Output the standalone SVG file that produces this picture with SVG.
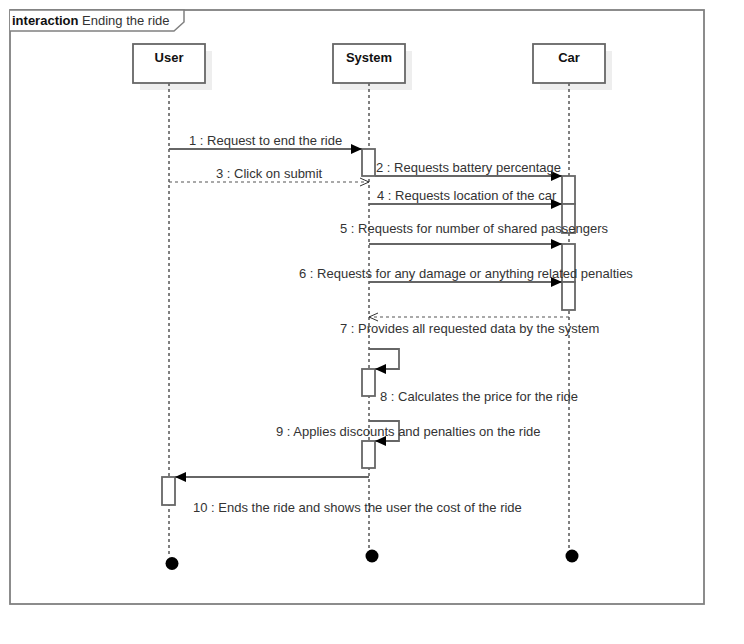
<svg xmlns="http://www.w3.org/2000/svg" width="744" height="644" viewBox="0 0 744 644">
<defs>
<marker id="filled" markerUnits="userSpaceOnUse" markerWidth="12" markerHeight="12" refX="11" refY="6" orient="auto">
<path d="M0,1 L11,6 L0,11 Z" fill="#000"/>
</marker>
<marker id="open" markerUnits="userSpaceOnUse" markerWidth="12" markerHeight="12" refX="10" refY="6" orient="auto">
<path d="M1,2 L10,6 L1,10" fill="none" stroke="#333" stroke-width="1"/>
</marker>
</defs>
<style>
text{font-family:"Liberation Sans",Arial,sans-serif;font-size:13px;fill:#333}
.head{font-weight:bold;fill:#111}
.box{fill:#fff;stroke:#666;stroke-width:1.8}
.shadow{fill:#eeeeee}
.life{stroke:#000;stroke-width:1;stroke-dasharray:3,3;fill:none}
.act{fill:#fff;stroke:#666;stroke-width:1.8}
.msg{stroke:#666;stroke-width:1.8;fill:none;marker-end:url(#filled)}
.ret{stroke:#555;stroke-width:1.2;stroke-dasharray:3,3;fill:none;marker-end:url(#open)}
.end{fill:#000}
</style>
<rect width="744" height="644" fill="#fff"/>
<g id="frame">
<rect x="10" y="10" width="694" height="594" fill="none" stroke="#808080" stroke-width="1.8"/>
<path d="M10,10 L184,10 L184,22 L174,31 L10,31" fill="#fff" stroke="#808080" stroke-width="1.5"/>
<text x="12" y="25"><tspan font-weight="bold" fill="#111">interaction</tspan> Ending the ride</text>
</g>
<g id="user">
<rect class="shadow" x="140" y="51" width="72" height="39"/>
<line class="life" x1="169" y1="83" x2="169" y2="556"/>
<rect class="box" x="133" y="44" width="72" height="39"/>
<text class="head" x="169" y="62" text-anchor="middle">User</text>
<circle class="end" cx="172" cy="563.5" r="6.5"/>
</g>
<g id="system">
<rect class="shadow" x="340" y="51" width="72" height="39"/>
<line class="life" x1="369" y1="83" x2="369" y2="549"/>
<rect class="box" x="333" y="44" width="72" height="39"/>
<text class="head" x="369" y="62" text-anchor="middle">System</text>
<circle class="end" cx="372" cy="556" r="6.5"/>
</g>
<g id="car">
<rect class="shadow" x="540" y="51" width="72" height="39"/>
<line class="life" x1="569" y1="83" x2="569" y2="549"/>
<rect class="box" x="533" y="44" width="72" height="39"/>
<text class="head" x="569" y="62" text-anchor="middle">Car</text>
<circle class="end" cx="572" cy="556" r="6.5"/>
</g>
<g id="activations">
<rect class="act" x="362" y="149" width="13" height="27"/>
<rect class="act" x="562" y="176" width="13" height="28"/>
<rect class="act" x="562" y="204" width="13" height="29"/>
<rect class="act" x="562" y="244" width="13" height="38"/>
<rect class="act" x="562" y="282" width="13" height="28"/>
<rect class="act" x="362" y="369" width="13" height="27"/>
<rect class="act" x="362" y="441" width="13" height="27"/>
<rect class="act" x="162" y="477" width="13" height="28"/>
</g>
<g id="connectors">
<line class="msg" x1="169" y1="149" x2="362" y2="149"/>
<line class="msg" x1="375" y1="176" x2="562" y2="176"/>
<line class="ret" x1="169" y1="182" x2="369" y2="182"/>
<line class="msg" x1="369" y1="204" x2="562" y2="204"/>
<line class="msg" x1="369" y1="244" x2="562" y2="244"/>
<line class="msg" x1="369" y1="282" x2="562" y2="282"/>
<line class="ret" x1="569" y1="317" x2="369" y2="317"/>
<polyline class="msg" points="369,349 399,349 399,369 375,369"/>
<polyline class="msg" points="369,421 399,421 399,441 375,441"/>
<line class="msg" x1="369" y1="477" x2="175" y2="477"/>
</g>
<g id="labels">
<text x="189" y="145">1 : Request to end the ride</text>
<text x="376" y="172">2 : Requests battery percentage</text>
<text x="216" y="178">3 : Click on submit</text>
<text x="377" y="200">4 : Requests location of the car</text>
<text x="340" y="233">5 : Requests for number of shared passengers</text>
<text x="299" y="278">6 : Requests for any damage or anything related penalties</text>
<text x="340" y="333">7 : Provides all requested data by the system</text>
<text x="380" y="401">8 : Calculates the price for the ride</text>
<text x="276" y="436">9 : Applies discounts and penalties on the ride</text>
<text x="193" y="512">10 : Ends the ride and shows the user the cost of the ride</text>
</g>
</svg>
